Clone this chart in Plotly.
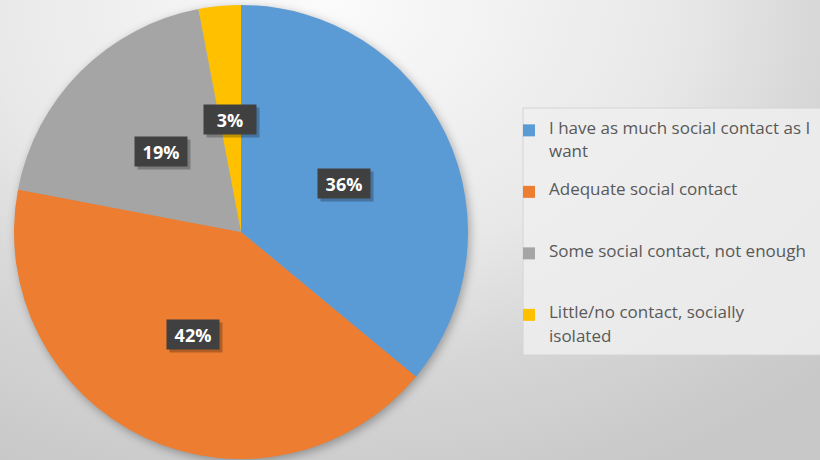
import math
import base64
import plotly.graph_objects as go

# ---- data ----
label_text = [
    "I have as much social contact as I<br>want",
    "Adequate social contact",
    "Some social contact, not enough",
    "Little/no contact, socially<br>isolated",
]
values = [36, 42, 19, 3]
colors = ["#5B9BD5", "#ED7D31", "#A5A5A5", "#FFC000"]

W, H = 820, 460
CX, CY, R = 241, 232, 227  # pie centre / radius in pixels (styling)
LEG_FONT = 9               # legend base font: sets the line grid (1.3 * 9 px)


def legend_label(t):
    # text lines go on every second grid line; each entry has 5 grid lines,
    # so the entries are evenly spaced like the reference legend
    parts = t.split("<br>")
    lines = []
    for p in parts:
        lines.append(f'<span style="font-size:17px">{p}</span>')
        lines.append(" ")
    while len(lines) < 5:
        lines.append(" ")
    return "<br>".join(lines[:5])


labels = [legend_label(t) for t in label_text]

# ---- background (gradient + soft pie shadow) as an SVG image ----
svg = f'''<svg xmlns="http://www.w3.org/2000/svg" width="{W}" height="{H}" viewBox="0 0 {W} {H}">
<defs>
<radialGradient id="g" gradientUnits="userSpaceOnUse" cx="330" cy="0" r="700"
 gradientTransform="translate(330,0) scale(1,0.743) translate(-330,0)">
<stop offset="0" stop-color="#fbfbfb"/>
<stop offset="0.5" stop-color="#e8e8e8"/>
<stop offset="0.72" stop-color="#d6d6d6"/>
<stop offset="1" stop-color="#c8c8c8"/>
</radialGradient>
<filter id="b" x="-20%" y="-20%" width="140%" height="140%"><feGaussianBlur stdDeviation="5"/></filter>
</defs>
<rect width="{W}" height="{H}" fill="url(#g)"/>
<circle cx="{CX+2}" cy="{CY+3}" r="{R}" fill="rgba(0,0,0,0.30)" filter="url(#b)"/>
</svg>'''
src = "data:image/svg+xml;base64," + base64.b64encode(svg.encode()).decode()

fig = go.Figure()
fig.add_trace(go.Pie(
    labels=labels,
    values=values,
    marker=dict(colors=colors, line=dict(width=0)),
    sort=False,
    direction="clockwise",
    rotation=0,
    textinfo="none",
    hoverinfo="percent",
    domain=dict(x=[(CX - R) / W, (CX + R) / W], y=[1 - (CY + R) / H, 1 - (CY - R) / H]),
))

# ---- percentage labels in dark boxes, positioned from the data ----
total = sum(values)
annotations = []
cum = 0
boxes = []
for v in values:
    mid = (cum + v / 2) / total * 2 * math.pi
    cum += v
    px = CX + 0.5 * R * math.sin(mid)
    py = CY - 0.5 * R * math.cos(mid)
    boxes.append((px, py, f"{v / total * 100:.0f}%"))

for px, py, t in boxes:  # soft shadows
    annotations.append(dict(
        x=(px + 3) / W, y=1 - (py + 3) / H, xref="paper", yref="paper",
        xanchor="center", yanchor="middle",
        text=" ", showarrow=False, width=52, height=29, borderpad=0,
        bgcolor="rgba(0,0,0,0.25)", font=dict(size=18)))
for px, py, t in boxes:
    annotations.append(dict(
        x=px / W, y=1 - py / H, xref="paper", yref="paper",
        xanchor="center", yanchor="middle",
        text=f"<b>{t}</b>", showarrow=False, width=52, height=29, borderpad=0,
        bgcolor="#404040", font=dict(family="Open Sans", size=18, color="white")))

fig.update_layout(
    width=W, height=H,
    margin=dict(l=0, r=0, t=0, b=0),
    paper_bgcolor="#dcdcdc",
    plot_bgcolor="rgba(0,0,0,0)",
    images=[dict(source=src, xref="paper", yref="paper", x=0, y=1, sizex=1, sizey=1,
                 xanchor="left", yanchor="top", sizing="stretch", layer="below")],
    shapes=[dict(type="rect", xref="paper", yref="paper",
                 x0=523 / W, x1=1.01, y0=1 - 355 / H, y1=1 - 108 / H,
                 fillcolor="rgba(238,238,238,0.85)", line=dict(color="#d4d4d4", width=1),
                 layer="below")],
    legend=dict(
        x=509 / W, y=1 - 118 / H, xanchor="left", yanchor="top",
        bgcolor="rgba(0,0,0,0)", borderwidth=0,
        font=dict(family="Open Sans", size=LEG_FONT, color="#595959"),
        valign="top", itemwidth=30, traceorder="normal",
    ),
    showlegend=True,
    annotations=annotations,
)

fig.write_html("out.html", config={"displayModeBar": False},
               post_script="document.body.style.margin='0';")
